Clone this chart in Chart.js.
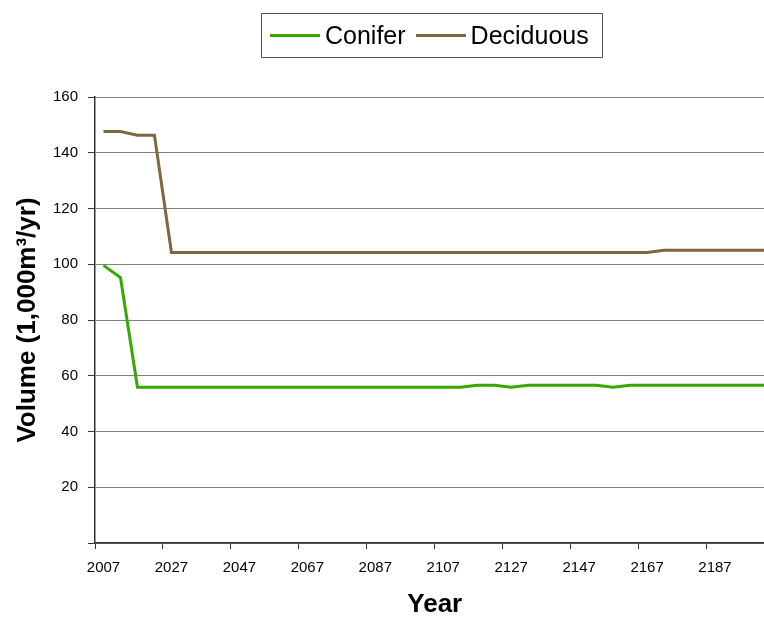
<!DOCTYPE html>
<html lang="en">
<head>
  <meta charset="UTF-8" />
  <title>Volume by Year</title>
  <script src="https://cdn.jsdelivr.net/npm/chart.js"></script>
  <style>
    body {
      margin: 0;
      background: #fff;
      overflow: hidden;
      font-family: 'Liberation Sans', Arial, sans-serif;
    }
    .wrap {
      position: relative;
      width: 764px;
      height: 617px;
      overflow: hidden;
    }
    canvas {
      position: absolute;
      left: 0;
      top: 0;
    }
    .legend {
      position: absolute;
      left: 261px;
      top: 13px;
      width: 342px;
      height: 45px;
      border: 1px solid #555;
      box-sizing: border-box;
      display: flex;
      align-items: center;
      padding-left: 8px;
      font-size: 25px;
      color: #000;
      z-index: 2;
    }
    .legend .line {
      display: inline-block;
      width: 50px;
      height: 3px;
      margin-right: 5px;
    }
    .legend .item {
      display: flex;
      align-items: center;
      margin-right: 10px;
    }
  </style>
</head>
<body>
  <div class="wrap">
    <div class="legend">
      <span class="item"><span class="line" style="background:#36a800"></span>Conifer</span>
      <span class="item"><span class="line" style="background:#7f6540"></span>Deciduous</span>
    </div>
    <canvas id="volumeChart" width="776" height="617"></canvas>
  </div>

  <script>
    const years = [2007, 2012, 2017, 2022, 2027, 2032, 2037, 2042, 2047, 2052,
                   2057, 2062, 2067, 2072, 2077, 2082, 2087, 2092, 2097, 2102,
                   2107, 2112, 2117, 2122, 2127, 2132, 2137, 2142, 2147, 2152,
                   2157, 2162, 2167, 2172, 2177, 2182, 2187, 2192, 2197, 2202];

    const conifer = [99.6, 95.2, 55.9, 55.9, 55.9, 55.9, 55.9, 55.9, 55.9, 55.9,
                     55.9, 55.9, 55.9, 55.9, 55.9, 55.9, 55.9, 55.9, 55.9, 55.9,
                     55.9, 55.9, 56.6, 56.6, 55.9, 56.6, 56.6, 56.6, 56.6, 56.6,
                     55.9, 56.6, 56.6, 56.6, 56.6, 56.6, 56.6, 56.6, 56.6, 56.6];

    const deciduous = [147.6, 147.6, 146.3, 146.3, 104.2, 104.2, 104.2, 104.2, 104.2, 104.2,
                       104.2, 104.2, 104.2, 104.2, 104.2, 104.2, 104.2, 104.2, 104.2, 104.2,
                       104.2, 104.2, 104.2, 104.2, 104.2, 104.2, 104.2, 104.2, 104.2, 104.2,
                       104.2, 104.2, 104.2, 105.0, 105.0, 105.0, 105.0, 105.0, 105.0, 105.0];

    const font = 'Liberation Sans, Arial, sans-serif';

    new Chart(document.getElementById('volumeChart'), {
      type: 'line',
      data: {
        labels: years,
        datasets: [
          { label: 'Conifer', data: conifer, borderColor: '#36a800', borderWidth: 3, pointRadius: 0, tension: 0 },
          { label: 'Deciduous', data: deciduous, borderColor: '#7f6540', borderWidth: 3, pointRadius: 0, tension: 0 }
        ]
      },
      options: {
        responsive: false,
        animation: false,
        layout: { padding: { top: 97, right: 1, bottom: 0, left: 0 } },
        plugins: {
          legend: { display: false },
          tooltip: { enabled: false }
        },
        scales: {
          x: {
            type: 'category',
            offset: true,
            afterFit: s => { s.height = 74; },
            grid: {
              offset: true,
              drawOnChartArea: false,
              tickLength: 6,
              color: ctx => ctx.index % 4 === 0 ? '#333' : 'transparent'
            },
            border: { display: true, color: '#333', width: 1.5 },
            ticks: {
              autoSkip: false,
              maxRotation: 0,
              padding: 10,
              color: '#000',
              font: { family: font, size: 15 },
              callback: (v, i) => i % 4 === 0 ? years[i] : ''
            },
            title: {
              display: true,
              text: 'Year',
              color: '#000',
              font: { family: font, size: 26, weight: 'bold' },
              padding: { top: 0, bottom: -3 }
            }
          },
          y: {
            min: 0,
            max: 160,
            afterFit: s => { s.width = 95; },
            grid: { color: '#808080', lineWidth: 1, tickLength: 7, tickColor: '#333' },
            border: { display: true, color: '#333', width: 1.5 },
            ticks: {
              stepSize: 20,
              padding: 10,
              color: '#000',
              font: { family: font, size: 15 },
              callback: v => v === 0 ? '' : v
            },
            title: {
              display: true,
              text: 'Volume (1,000m³/yr)',
              color: '#000',
              font: { family: font, size: 26, weight: 'bold' },
              padding: { top: 12, bottom: 0 }
            }
          }
        }
      }
    });
  </script>
</body>
</html>
